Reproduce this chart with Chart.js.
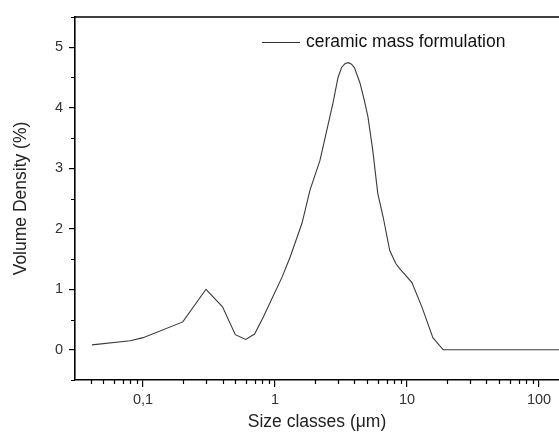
<!DOCTYPE html>
<html>
<head>
<meta charset="utf-8">
<script src="https://cdn.jsdelivr.net/npm/chart.js@4"></script>
<style>
  html, body { margin: 0; padding: 0; background: #fff; }
  #wrap { width: 559px; height: 433px; }
</style>
</head>
<body>
<div id="wrap"><canvas id="sizeChart" width="559" height="433"></canvas></div>
<script>
// particle size classes (um) and volume density (%)
const sizeClasses = [0.041, 0.08, 0.1, 0.2, 0.3, 0.4, 0.5, 0.6, 0.7, 0.81, 1.13, 1.3, 1.6, 1.84, 2.19, 2.75, 3.0, 3.2, 3.4, 3.6, 3.8, 4.0, 4.4, 4.75, 5.06, 5.5, 6.0, 6.6, 7.4, 8.2, 8.8, 10.9, 13, 15.7, 18.8, 150];
const volumeDensity = [0.08, 0.15, 0.2, 0.46, 1.0, 0.71, 0.25, 0.17, 0.26, 0.53, 1.2, 1.53, 2.09, 2.64, 3.13, 4.08, 4.5, 4.67, 4.73, 4.745, 4.72, 4.66, 4.41, 4.12, 3.85, 3.3, 2.59, 2.19, 1.64, 1.43, 1.34, 1.11, 0.7, 0.2, 0, 0];

const xMajorTicks = [0.1, 1, 10, 100];
const xTickLabels = ['0,1', '1', '10', '100'];
const yMajorTicks = [0, 1, 2, 3, 4, 5];
const seriesLabel = 'ceramic mass formulation';

const points = sizeClasses.map((s, i) => ({ x: s, y: volumeDensity[i] }));
const FONT = '"Liberation Sans", Arial, sans-serif';

// minor ticks + top border + legend
const extras = {
    id: 'extras',
    afterDraw(chart) {
        const ctx = chart.ctx;
        const area = chart.chartArea;
        const xs = chart.scales.x;
        const ys = chart.scales.y;
        ctx.save();
        ctx.strokeStyle = '#000';
        ctx.lineWidth = 1.2;
        ctx.beginPath();
        for (let d = -2; d <= 2; d++) {
            for (let m = 2; m <= 9; m++) {
                const v = m * Math.pow(10, d);
                if (v < xs.min || v > xs.max) continue;
                const px = Math.round(xs.getPixelForValue(v)) + 0.5;
                ctx.moveTo(px, area.bottom);
                ctx.lineTo(px, area.bottom + 4);
            }
        }
        for (let v = -0.5; v <= 5.5; v += 1) {
            const py = Math.round(ys.getPixelForValue(v)) + 0.5;
            ctx.moveTo(area.left, py);
            ctx.lineTo(area.left - 4, py);
        }
        ctx.stroke();

        // top frame line
        ctx.lineWidth = 1.6;
        ctx.beginPath();
        ctx.moveTo(area.left, area.top);
        ctx.lineTo(chart.width, area.top);
        ctx.stroke();

        // legend
        const lx = 262, ly = 42;
        ctx.strokeStyle = '#333';
        ctx.lineWidth = 1;
        ctx.beginPath();
        ctx.moveTo(lx, ly + 0.5);
        ctx.lineTo(lx + 38, ly + 0.5);
        ctx.stroke();
        ctx.fillStyle = '#111';
        ctx.font = '17.5px ' + FONT;
        ctx.textBaseline = 'middle';
        ctx.fillText(chart.data.datasets[0].label, lx + 44, ly);
        ctx.restore();
    }
};

const sizeChart = new Chart(document.getElementById('sizeChart'), {
    type: 'line',
    data: {
        datasets: [{
            label: seriesLabel,
            data: points,
            borderColor: '#3a3a3a',
            borderWidth: 1.1,
            pointRadius: 0,
            tension: 0,
            fill: false
        }]
    },
    options: {
        responsive: false,
        animation: false,
        layout: { padding: { top: 17, right: 0, left: 0, bottom: 0 } },
        plugins: { legend: { display: false }, tooltip: { enabled: false } },
        scales: {
            x: {
                type: 'logarithmic',
                min: 0.0305,
                max: 141.8,
                afterBuildTicks: (s) => { s.ticks = xMajorTicks.map(v => ({ value: v })); },
                afterFit: (s) => { s.height = 53; },
                border: { display: true, color: '#000', width: 1.6 },
                grid: { drawOnChartArea: false, drawTicks: true, tickLength: 7, color: '#000', lineWidth: 1.2 },
                ticks: {
                    autoSkip: false,
                    maxRotation: 0,
                    padding: 4,
                    color: '#333',
                    font: { family: FONT, size: 14.5 },
                    callback: (v) => {
                        const i = xMajorTicks.findIndex(t => Math.abs(t - v) < 1e-9);
                        return i >= 0 ? xTickLabels[i] : '';
                    }
                },
                title: {
                    display: true,
                    text: 'Size classes (\u03bcm)',
                    color: '#222',
                    padding: { top: 2, bottom: 0 },
                    font: { family: FONT, size: 17.5 }
                }
            },
            y: {
                min: -0.5,
                max: 5.5,
                afterBuildTicks: (s) => { s.ticks = yMajorTicks.map(v => ({ value: v })); },
                afterFit: (s) => { s.width = 75; },
                border: { display: true, color: '#000', width: 1.6 },
                grid: { drawOnChartArea: false, drawTicks: true, tickLength: 6, color: '#000', lineWidth: 1.2 },
                ticks: {
                    padding: 6,
                    color: '#333',
                    font: { family: FONT, size: 14.5 }
                },
                title: {
                    display: true,
                    text: 'Volume Density (%)',
                    color: '#222',
                    padding: { top: 11, bottom: 4 },
                    font: { family: FONT, size: 17.5 }
                }
            }
        }
    },
    plugins: [extras]
});
</script>
</body>
</html>
